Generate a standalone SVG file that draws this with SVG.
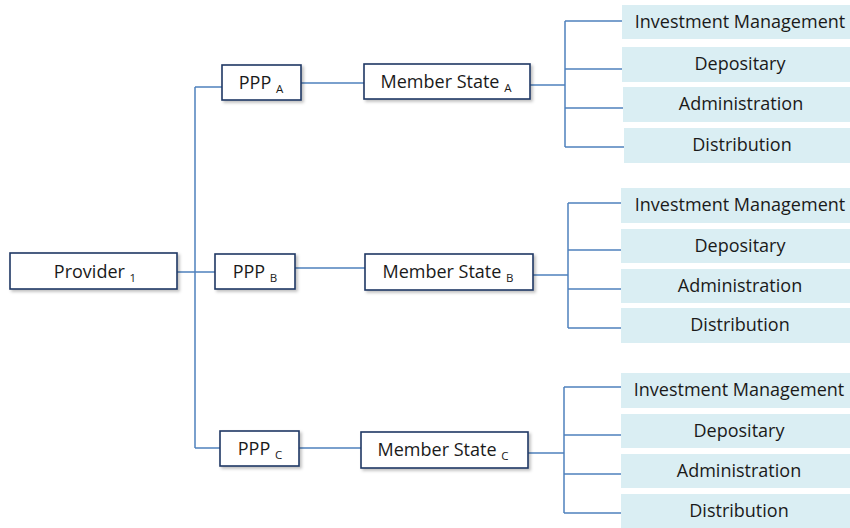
<svg xmlns="http://www.w3.org/2000/svg" width="850" height="528" viewBox="0 0 850 528">
<style>
.n{fill:#fff;stroke:#1f3864;stroke-width:1.6;filter:url(#sh)}
.f{fill:#daeef3}
.t{font-family:"Open Sans","Liberation Sans",sans-serif;font-size:18px;fill:#1a1a1a;text-anchor:middle}
.s{font-size:11.5px}
.c{fill:none;stroke:#4f81bd;stroke-width:1.5}
</style>
<defs>
<filter id="sh" x="-10%" y="-20%" width="130%" height="160%">
<feDropShadow dx="2" dy="2" stdDeviation="1.5" flood-color="#000" flood-opacity="0.25"/>
</filter>
</defs>
<rect width="850" height="528" fill="#fff"/>
<g id="connectors">
<path class="c" d="M177 272H215M195 87V448M195 87H222M195 448H220"/>
<path class="c" d="M301 83H364M295 268H365M299 448H361"/>
<path class="c" d="M530 85H565M565 21V147M565 21H622M565 69H622M565 108H623M565 147H624"/>
<path class="c" d="M533 275H568M568 203V328M568 203H621M568 250H621M568 289H621M568 328H621"/>
<path class="c" d="M528 453H564M564 387V513M564 387H621M564 435H621M564 474H621M564 513H621"/>
</g>
<g id="provider1"><rect class="n" x="10" y="253" width="167" height="36"/><text class="t" x="95" y="278">Provider <tspan class="s" dy="4">1</tspan></text></g>
<g id="pppA"><rect class="n" x="222" y="65" width="79" height="35"/><text class="t" x="261" y="89">PPP <tspan class="s" dy="4">A</tspan></text></g>
<g id="pppB"><rect class="n" x="215" y="254" width="80" height="35"/><text class="t" x="255" y="278">PPP <tspan class="s" dy="4">B</tspan></text></g>
<g id="pppC"><rect class="n" x="220" y="431" width="79" height="35"/><text class="t" x="260" y="455">PPP <tspan class="s" dy="4">C</tspan></text></g>
<g id="msA"><rect class="n" x="364" y="64" width="166" height="35"/><text class="t" x="446" y="88">Member State <tspan class="s" dy="4">A</tspan></text></g>
<g id="msB"><rect class="n" x="365" y="254" width="168" height="36"/><text class="t" x="448" y="278">Member State <tspan class="s" dy="4">B</tspan></text></g>
<g id="msC"><rect class="n" x="361" y="432" width="167" height="36"/><text class="t" x="443" y="456">Member State <tspan class="s" dy="4">C</tspan></text></g>
<g id="imA"><rect class="f" x="622" y="5" width="228" height="34"/><text class="t" x="740" y="28">Investment Management</text></g>
<g id="depA"><rect class="f" x="622" y="47" width="228" height="35"/><text class="t" x="740" y="70">Depositary</text></g>
<g id="admA"><rect class="f" x="623" y="87" width="227" height="35"/><text class="t" x="741" y="110">Administration</text></g>
<g id="disA"><rect class="f" x="624" y="128" width="226" height="35"/><text class="t" x="742" y="151">Distribution</text></g>
<g id="imB"><rect class="f" x="621" y="188" width="229" height="35"/><text class="t" x="740" y="211">Investment Management</text></g>
<g id="depB"><rect class="f" x="621" y="229" width="229" height="34"/><text class="t" x="740" y="252">Depositary</text></g>
<g id="admB"><rect class="f" x="621" y="269" width="229" height="34"/><text class="t" x="740" y="292">Administration</text></g>
<g id="disB"><rect class="f" x="621" y="308" width="229" height="35"/><text class="t" x="740" y="331">Distribution</text></g>
<g id="imC"><rect class="f" x="621" y="373" width="229" height="35"/><text class="t" x="739" y="396">Investment Management</text></g>
<g id="depC"><rect class="f" x="621" y="414" width="229" height="34"/><text class="t" x="739" y="437">Depositary</text></g>
<g id="admC"><rect class="f" x="621" y="454" width="229" height="34"/><text class="t" x="739" y="477">Administration</text></g>
<g id="disC"><rect class="f" x="621" y="494" width="229" height="34"/><text class="t" x="739" y="517">Distribution</text></g>
</svg>
